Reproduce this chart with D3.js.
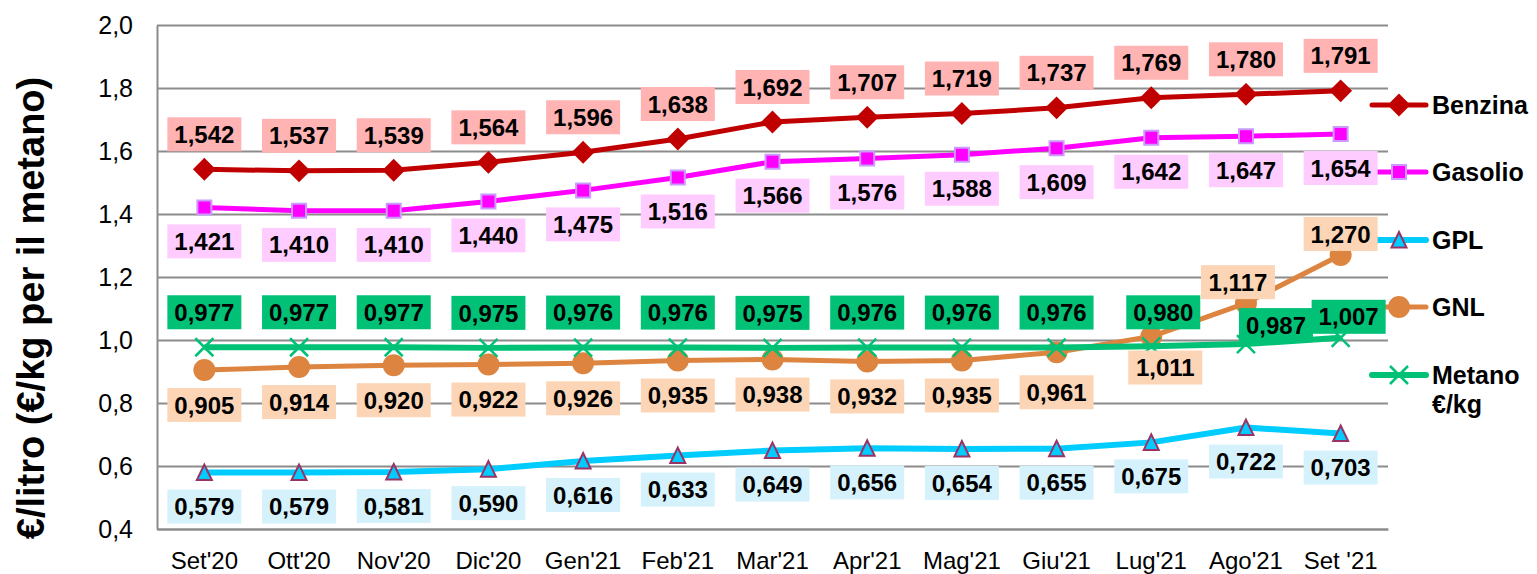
<!DOCTYPE html>
<html>
<head>
<meta charset="utf-8">
<script src="https://cdn.jsdelivr.net/npm/d3@7"></script>
<style>
  body { margin: 0; background: #fff; }
  svg { font-family: "Liberation Sans", Arial, sans-serif; }
  .tick text { fill: #000; }
</style>
</head>
<body>
<div id="chart"></div>
<script>

// data
var months = ["Set'20", "Ott'20", "Nov'20", "Dic'20", "Gen'21", "Feb'21", "Mar'21",
              "Apr'21", "Mag'21", "Giu'21", "Lug'21", "Ago'21", "Set '21"];
var benzina = [1.542, 1.537, 1.539, 1.564, 1.596, 1.638, 1.692, 1.707, 1.719, 1.737, 1.769, 1.780, 1.791];
var gasolio = [1.421, 1.410, 1.410, 1.440, 1.475, 1.516, 1.566, 1.576, 1.588, 1.609, 1.642, 1.647, 1.654];
var gpl     = [0.579, 0.579, 0.581, 0.590, 0.616, 0.633, 0.649, 0.656, 0.654, 0.655, 0.675, 0.722, 0.703];
var gnl     = [0.905, 0.914, 0.920, 0.922, 0.926, 0.935, 0.938, 0.932, 0.935, 0.961, 1.011, 1.117, 1.270];
var metano  = [0.977, 0.977, 0.977, 0.975, 0.976, 0.976, 0.975, 0.976, 0.976, 0.976, 0.980, 0.987, 1.007];
var yTicks  = [0.4, 0.6, 0.8, 1.0, 1.2, 1.4, 1.6, 1.8, 2.0];

var width = 1537, height = 574;
var margin = {top: 25, left: 157, right: 149, bottom: 45};

// where each data label sits relative to its point (pixels)
var gnlLabelDy = [35, 35, 35, 35, 35, 35, 35, 35, 35, 40, 31, -21, -21];
var gnlLabelDx = [0, 0, 0, 0, 0, 0, 0, 0, 0, 0, 14, -8, 0];
var metLabelDy = [-35, -35, -35, -35, -35, -35, -35, -35, -35, -35, -34, -19, -21];
var metLabelDx = [0, 0, 0, 0, 0, 0, 0, 0, 0, 0, 12, 30, 8];

var series = [
  {name: "Benzina", values: benzina, color: "#C00000", width: 5, marker: "diamond",
   fill: "#C00000", stroke: "#C00000", labelBg: "#FFB3B3", dy: -35, legendY: 105},
  {name: "Gasolio", values: gasolio, color: "#FF00FF", width: 5, marker: "square",
   fill: "#FF00FF", stroke: "#CC99FF", labelBg: "#FFCCFF", dy: 34, legendY: 172},
  {name: "GPL", values: gpl, color: "#00CCFF", width: 6, marker: "triangle",
   fill: "#00CCFF", stroke: "#993366", labelBg: "#D5F2FC", dy: 34, legendY: 240},
  {name: "GNL", values: gnl, color: "#DD8540", width: 5, marker: "circle",
   fill: "#DD8540", stroke: "#DD8540", labelBg: "#FBD5B5", dys: gnlLabelDy, dxs: gnlLabelDx, legendY: 307},
  {name: "Metano", values: metano, color: "#00C176", width: 6, marker: "x",
   fill: "none", stroke: "#00C176", labelBg: "#00C176", dys: metLabelDy, dxs: metLabelDx, legendY: 375}
];

var svg = d3.select("#chart").append("svg")
  .attr("width", width)
  .attr("height", height);

var x = d3.scaleBand()
  .domain(months)
  .range([margin.left, width - margin.right]);

var y = d3.scaleLinear()
  .domain([0.4, 2.0])
  .range([height - margin.bottom, margin.top]);

function cx(i) { return x(months[i]) + x.bandwidth() / 2; }
function fmt(v, n) { return d3.format("." + n + "f")(v).replace(".", ","); }

// gridlines
svg.append("g")
  .attr("transform", "translate(" + margin.left + ",0)")
  .call(d3.axisLeft(y).tickValues(yTicks).tickSize(-(width - margin.left - margin.right)).tickFormat(""))
  .call(function(g) {
    g.select(".domain").remove();
    g.selectAll("line").attr("stroke", "#8C8C8C").attr("stroke-width", 2);
  });

// y axis
svg.append("g")
  .attr("transform", "translate(" + margin.left + ",0)")
  .call(d3.axisLeft(y).tickValues(yTicks).tickSize(0).tickPadding(24)
    .tickFormat(function(d) { return fmt(d, 1); }))
  .call(function(g) {
    g.select(".domain").attr("stroke", "#8C8C8C").attr("stroke-width", 2);
    g.selectAll("text").style("font-size", "25px");
  });

// x axis
svg.append("g")
  .attr("transform", "translate(0," + (height - margin.bottom) + ")")
  .call(d3.axisBottom(x).tickSize(0).tickPadding(23))
  .call(function(g) {
    g.select(".domain").attr("stroke", "#8C8C8C").attr("stroke-width", 2);
    g.selectAll("text").style("font-size", "24px");
  });

svg.append("text")
  .attr("transform", "translate(44," + 308 + ") rotate(-90)")
  .attr("text-anchor", "middle")
  .style("font-size", "38px")
  .style("font-weight", "bold")
  .text("€/litro (€/kg per il metano)");

function markerPath(type) {
  if (type == "diamond") return "M0,-10L10,0L0,10L-10,0Z";
  if (type == "square") return "M-7,-7H7V7H-7Z";
  if (type == "triangle") return "M0,-8L7.5,7.5L-7.5,7.5Z";
  if (type == "x") return "M-9,-9L9,9M-9,9L9,-9";
  return d3.symbol().type(d3.symbolCircle).size(Math.PI * 100)();
}

function drawMarker(g, s, tx, ty) {
  g.append("path")
    .attr("transform", "translate(" + tx + "," + ty + ")")
    .attr("d", markerPath(s.marker))
    .attr("fill", s.fill)
    .attr("stroke", s.stroke)
    .attr("stroke-width", s.marker == "x" ? 2.5 : 2);
}

var line = d3.line()
  .x(function(d, i) { return cx(i); })
  .y(function(d) { return y(d); });

series.forEach(function(s) {
  var g = svg.append("g");
  g.append("path")
    .datum(s.values)
    .attr("d", line)
    .attr("fill", "none")
    .attr("stroke", s.color)
    .attr("stroke-width", s.width)
    .attr("stroke-linejoin", "round");
  s.values.forEach(function(v, i) { drawMarker(g, s, cx(i), y(v)); });

  // legend
  var lg = svg.append("g");
  lg.append("line")
    .attr("x1", 1372).attr("x2", 1426)
    .attr("y1", s.legendY).attr("y2", s.legendY)
    .attr("stroke", s.color).attr("stroke-width", s.width)
    .attr("stroke-linecap", "round");
  drawMarker(lg, s, 1399, s.legendY);
  var t = lg.append("text")
    .attr("x", 1432)
    .attr("y", s.legendY + 9)
    .style("font-size", "25px")
    .style("font-weight", "bold");
  if (s.name == "Metano") {
    t.text("Metano");
    lg.append("text")
      .attr("x", 1432).attr("y", s.legendY + 38)
      .style("font-size", "25px").style("font-weight", "bold")
      .text("€/kg");
  } else {
    t.text(s.name);
  }
});

// data labels on top
series.forEach(function(s) {
  var g = svg.append("g");
  s.values.forEach(function(v, i) {
    var dy = s.dys ? s.dys[i] : s.dy;
    var dx = s.dxs ? s.dxs[i] : 0;
    var lx = cx(i) + dx, ly = y(v) + dy;
    g.append("rect")
      .attr("x", lx - 37).attr("y", ly - 17)
      .attr("width", 74).attr("height", 34)
      .attr("fill", s.labelBg);
    g.append("text")
      .attr("x", lx).attr("y", ly)
      .attr("dy", "0.36em")
      .attr("text-anchor", "middle")
      .style("font-size", "24px")
      .style("font-weight", "bold")
      .text(fmt(v, 3));
  });
});

</script>
</body>
</html>
